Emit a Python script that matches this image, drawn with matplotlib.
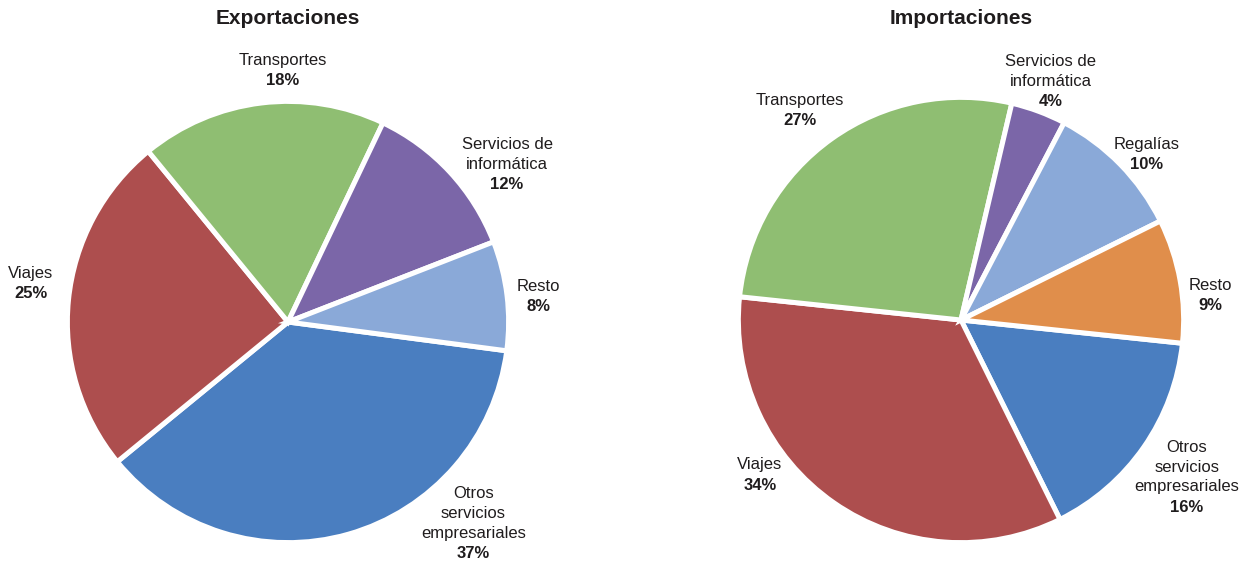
import matplotlib.pyplot as plt

plt.rcParams['font.family'] = ['Liberation Sans', 'DejaVu Sans']

W, H = 1251, 565

# Exportaciones
exp_labels = ["Otros\nservicios\nempresariales", "Viajes", "Transportes",
              "Servicios de\ninformática", "Resto"]
exp_values = [37, 25, 18, 12, 8]
exp_colors = ["#4a7ec0", "#ad4e4e", "#8fbe72", "#7b66a8", "#8aa9d8"]

# Importaciones
imp_labels = ["Otros\nservicios\nempresariales", "Viajes", "Transportes",
              "Servicios de\ninformática", "Regalías", "Resto"]
imp_values = [16, 34, 27, 4, 10, 9]
imp_colors = ["#4a7ec0", "#ad4e4e", "#8fbe72", "#7b66a8", "#8aa9d8", "#e08e4b"]

# label anchor of the percentage line, in pie-radius units
exp_label_pos = [(0.85, -1.064), (-1.179, 0.133), (-0.023, 1.110),
                 (1.005, 0.633), (1.147, 0.069)]
imp_label_pos = [(1.027, -0.85), (-0.914, -0.75), (-0.732, 0.909),
                 (0.409, 0.995), (0.845, 0.705), (1.132, 0.064)]

TXT = "#1f1c1d"
LS = 14.4  # line spacing in points


def draw_pie(fig, cx, cy, R, title, values, labels, colors, label_pos, start):
    ax = fig.add_axes(((cx - 1.5 * R) / W, (H - cy - 1.5 * R) / H, 3 * R / W, 3 * R / H))
    ax.pie(values, colors=colors, startangle=start, counterclock=False, radius=1.012,
           wedgeprops=dict(edgecolor="white", linewidth=3.6))
    ax.set_xlim(-1.5, 1.5)
    ax.set_ylim(-1.5, 1.5)
    ax.set_aspect('equal')
    ax.axis('off')
    for lab, val, (x, y) in zip(labels, values, label_pos):
        ax.annotate(f"{val}%", (x, y), ha='center', va='center', fontsize=12,
                    fontweight='bold', color=TXT, annotation_clip=False)
        for i, line in enumerate(reversed(lab.split('\n'))):
            ax.annotate(line, (x, y), xytext=(0, (i + 1) * LS), textcoords='offset points',
                        ha='center', va='center', fontsize=12, color=TXT,
                        annotation_clip=False)
    fig.text(cx / W, 1 - 18 / H, title, ha='center', va='center', fontsize=15,
             fontweight='bold', color=TXT)


fig = plt.figure(figsize=(W / 100, H / 100), dpi=100)
draw_pie(fig, 288, 322, 218, "Exportaciones", exp_values, exp_labels, exp_colors,
         exp_label_pos, -7.5)
draw_pie(fig, 961, 320, 220, "Importaciones", imp_values, imp_labels, imp_colors,
         imp_label_pos, -6)
fig.savefig("out.png", dpi=100)
